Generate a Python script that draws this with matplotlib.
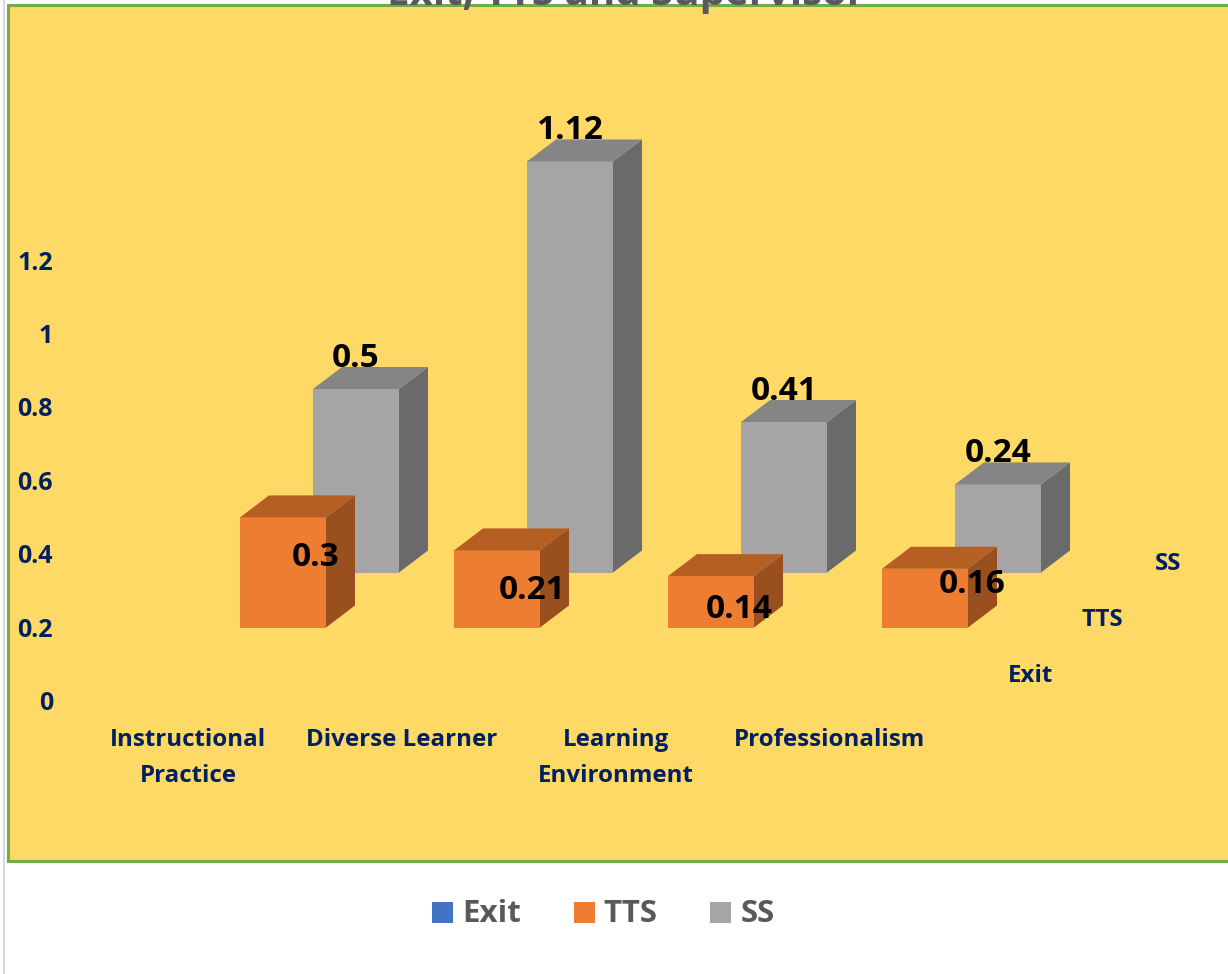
import matplotlib
matplotlib.use('Agg')
import matplotlib.pyplot as plt
from matplotlib.patches import Polygon, Rectangle

plt.rcParams['font.family'] = ['Open Sans', 'DejaVu Sans']

categories = ['Instructional\nPractice', 'Diverse Learner', 'Learning\nEnvironment', 'Professionalism']
tts_values = [0.3, 0.21, 0.14, 0.16]
ss_values = [0.5, 1.12, 0.41, 0.24]
y_ticks = [0, 0.2, 0.4, 0.6, 0.8, 1, 1.2]
series_names = ['Exit', 'TTS', 'SS']
series_colors = ['#4472C4', '#ED7D31', '#A5A5A5']

W, H = 1228, 974
PX_PER_UNIT = 367.0   # pixels for 1.0 on the value axis
Y_ZERO = 700          # pixel row of value 0
TXT = 3.5             # centre of the glyphs sits this far above va='center'

fig = plt.figure(figsize=(W / 100, H / 100), dpi=100, facecolor='white')
ax = fig.add_axes([0, 0, 1, 1])
ax.set_xlim(0, W)
ax.set_ylim((Y_ZERO - H) / PX_PER_UNIT, Y_ZERO / PX_PER_UNIT)
ax.axis('off')


def py(row):
    # pixel row (from the top) to value units
    return (Y_ZERO - row) / PX_PER_UNIT


# panel
ax.add_patch(Rectangle((3, py(H)), 2, py(0) - py(H), fc='#D9D9D9', ec='none', zorder=0))
ax.add_patch(Rectangle((8, py(861)), W, py(5) - py(861), fc='#FFD966', ec='#70AD47', lw=2.2, zorder=1))

BAR_W = 86
DX = 29
DY = 22 / PX_PER_UNIT


def bar3d(x, base, value, face, side, top, z):
    t = base + value
    ax.add_patch(Polygon([(x, base), (x + BAR_W, base), (x + BAR_W, t), (x, t)], fc=face, ec='none', zorder=z))
    ax.add_patch(Polygon([(x + BAR_W, base), (x + BAR_W + DX, base + DY), (x + BAR_W + DX, t + DY), (x + BAR_W, t)],
                         fc=side, ec='none', zorder=z))
    ax.add_patch(Polygon([(x, t), (x + BAR_W, t), (x + BAR_W + DX, t + DY), (x + DX, t + DY)],
                         fc=top, ec='none', zorder=z))


tts_base = py(627.5)
ss_base = py(572.5)
tts_x = [240, 454, 668, 882]
ss_x = [313, 527, 741, 955]

for x, v in zip(ss_x, ss_values):
    bar3d(x, ss_base, v, '#A5A5A5', '#6A6A6A', '#858585', 3)
for x, v in zip(tts_x, tts_values):
    bar3d(x, tts_base, v, '#ED7D31', '#99501E', '#B65F22', 4)

# data labels
lab = dict(fontsize=24, fontweight='bold', color='black', ha='center', va='center', zorder=6)
for x, v in zip(ss_x, ss_values):
    ax.text(x + 43, ss_base + v + (34 - TXT) / PX_PER_UNIT, f'{v:g}', **lab)
# the orange labels do not follow the bars in the original
for cx, row, v in zip([316, 532, 739, 972], [554, 587, 606, 581], tts_values):
    ax.text(cx, py(row + TXT), f'{v:g}', **lab)

# value axis
for t in y_ticks:
    ax.text(53, t - TXT / PX_PER_UNIT, f'{t:g}', fontsize=18, fontweight='bold', color='#002060',
            ha='right', va='center', zorder=6)

# category axis
for cx, c in zip([188, 402, 616, 830], categories):
    ax.text(cx, py(728), c, fontsize=17.4, fontweight='bold', color='#002060', ha='center', va='top',
            linespacing=1.65, zorder=6)

# depth axis
for cx, row, s in zip([1031, 1102, 1168], [672, 616, 560], series_names):
    ax.text(cx, py(row + TXT), s, fontsize=17.4, fontweight='bold', color='#002060', ha='center', va='center', zorder=6)

# legend
for lx, tx, s, col in zip([432, 574, 710], [462, 603, 741], series_names, series_colors):
    ax.add_patch(Rectangle((lx, py(923)), 21, 21 / PX_PER_UNIT, fc=col, ec='none', zorder=6))
    ax.text(tx, py(911 + TXT), s, fontsize=22.5, fontweight='bold', color='#595959', ha='left', va='center', zorder=6)

# title, cut off by the top of the picture
ax.text(626, py(4.5), 'Exit, TTS and Supervisor', fontsize=29, fontweight='bold', color='#595959',
        ha='center', va='baseline', zorder=6)

fig.savefig('out.png', dpi=100)
